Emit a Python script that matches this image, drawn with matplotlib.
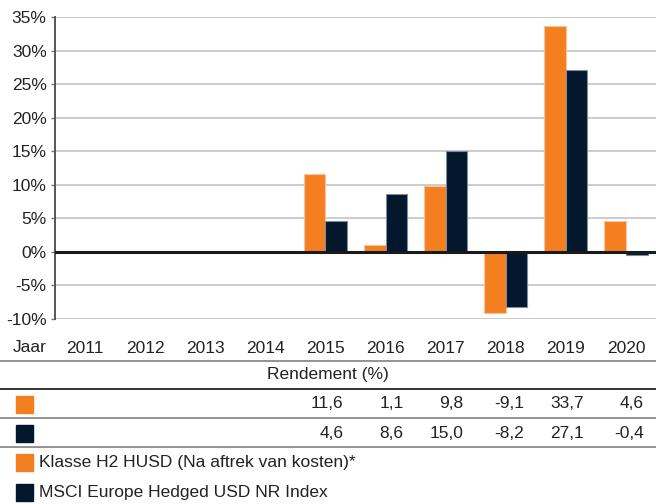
import numpy as np
import matplotlib.pyplot as plt
import matplotlib.transforms as mtransforms
from matplotlib.patches import Rectangle

plt.rcParams['font.family'] = ['Liberation Sans', 'DejaVu Sans']

years = ["2011", "2012", "2013", "2014", "2015", "2016", "2017", "2018", "2019", "2020"]
fund = [np.nan, np.nan, np.nan, np.nan, 11.6, 1.1, 9.8, -9.1, 33.7, 4.6]
index = [np.nan, np.nan, np.nan, np.nan, 4.6, 8.6, 15.0, -8.2, 27.1, -0.4]
fund_labels = ["", "", "", "", "11,6", "1,1", "9,8", "-9,1", "33,7", "4,6"]
index_labels = ["", "", "", "", "4,6", "8,6", "15,0", "-8,2", "27,1", "-0,4"]
legend_names = ["Klasse H2 HUSD (Na aftrek van kosten)*", "MSCI Europe Hedged USD NR Index"]

orange = "#F47F20"
navy = "#03172D"
W, H = 656, 504

fig = plt.figure(figsize=(W / 100, H / 100), dpi=100)
ax = fig.add_axes([55 / W, (H - 319) / H, (W - 55) / W, (319 - 17) / H])

x = np.arange(len(years))
bw = 0.36
ax.bar(x - bw / 2, fund, bw, color=orange, edgecolor="#F9C49A", linewidth=0.8, zorder=3)
ax.bar(x + bw / 2, index, bw, color=navy, edgecolor="#7E8B99", linewidth=0.8, zorder=3)

ax.set_xlim(-0.5, len(years) - 0.5)
ax.set_ylim(-10, 35)
ax.set_yticks(range(-10, 36, 5))
ax.set_yticklabels([f"{v}%" for v in range(-10, 36, 5)], fontsize=12.5, color="#222222")
ax.yaxis.grid(True, color="#C8C8C8", linewidth=1.3, zorder=0)
ax.axhline(0, color="#1a1a1a", linewidth=2.2, zorder=4)
ax.tick_params(axis="y", length=3, width=1, color="#777777", pad=3)

ax.set_xticks(x)
ax.set_xticklabels(years, fontsize=12.5, color="#222222")
ax.tick_params(axis="x", length=0, pad=16)

for s in ["top", "right", "bottom"]:
    ax.spines[s].set_visible(False)
ax.spines["left"].set_color("#555555")
ax.spines["left"].set_linewidth(1.4)

# table below the chart
trans = mtransforms.blended_transform_factory(ax.transData, fig.transFigure)


def fy(py):
    return (H - py) / H


fig.text(13 / W, fy(348), "Jaar", fontsize=12.5, color="#222222", va="center")
fig.text(0.5, fy(375), "Rendement (%)", fontsize=12.5, color="#222222", va="center", ha="center")

for py, col in [(361, "#8a8a8a"), (389, "#222222"), (418, "#8a8a8a"), (447, "#8a8a8a")]:
    fig.add_artist(plt.Line2D([0, 1], [fy(py), fy(py)], transform=fig.transFigure,
                              color=col, linewidth=1.3))

for i in range(len(years)):
    ax.text(i + 0.3, fy(404), fund_labels[i], transform=trans, fontsize=12.5,
            color="#222222", ha="right", va="center")
    ax.text(i + 0.3, fy(433), index_labels[i], transform=trans, fontsize=12.5,
            color="#222222", ha="right", va="center")

for py, col in [(404, orange), (433, navy), (462, orange), (492, navy)]:
    fig.add_artist(Rectangle((16 / W, fy(py + 8.5)), 17 / W, 17 / H,
                             transform=fig.transFigure, color=col))

fig.text(39 / W, fy(463), legend_names[0], fontsize=12.5, color="#222222", va="center")
fig.text(39 / W, fy(492), legend_names[1], fontsize=12.5, color="#222222", va="center")

fig.savefig("out.png", dpi=100)
